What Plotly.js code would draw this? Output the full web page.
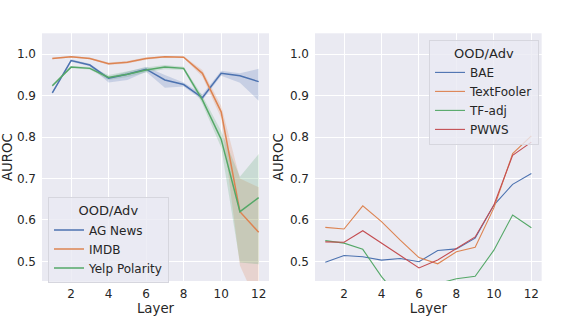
<!DOCTYPE html>
<html>
<head>
<meta charset="utf-8">
<script src="https://cdn.plot.ly/plotly-3.0.1.min.js"></script>
<style>html,body{margin:0;padding:0;background:#fff;}#chart{width:568px;height:318px;}</style>
</head>
<body>
<div id="chart"></div>
<script>
// ---- data ----
const layers = [1,2,3,4,5,6,7,8,9,10,11,12];

// left panel: OOD datasets (mean + confidence band)
const oodNames = ["AG News", "IMDB", "Yelp Polarity"];
const agNews     = [0.907,0.985,0.974,0.942,0.952,0.964,0.938,0.927,0.895,0.954,0.948,0.934];
const agNewsLo   = [0.904,0.982,0.971,0.932,0.938,0.958,0.919,0.922,0.889,0.948,0.931,0.888];
const agNewsHi   = [0.910,0.988,0.977,0.946,0.958,0.970,0.950,0.932,0.903,0.960,0.954,0.965];
const imdb       = [0.990,0.994,0.990,0.977,0.981,0.990,0.994,0.993,0.954,0.861,0.620,0.570];
const imdbLo     = [0.988,0.992,0.988,0.974,0.978,0.987,0.992,0.991,0.946,0.846,0.490,0.390];
const imdbHi     = [0.992,0.996,0.992,0.980,0.984,0.993,0.996,0.995,0.962,0.876,0.700,0.679];
const yelp       = [0.924,0.969,0.966,0.944,0.952,0.962,0.969,0.966,0.890,0.795,0.620,0.654];
const yelpLo     = [0.921,0.966,0.963,0.938,0.945,0.956,0.964,0.962,0.880,0.775,0.497,0.493];
const yelpHi     = [0.927,0.972,0.969,0.950,0.959,0.968,0.974,0.970,0.900,0.815,0.704,0.759];

// right panel: adversarial attacks
const advNames = ["BAE", "TextFooler", "TF-adj", "PWWS"];
const bae        = [0.498,0.514,0.511,0.503,0.507,0.499,0.526,0.530,0.556,0.636,0.686,0.712];
const textFooler = [0.582,0.578,0.634,0.596,0.551,0.509,0.494,0.523,0.534,0.629,0.760,0.803];
const tfAdj      = [0.550,0.544,0.529,0.463,0.410,0.400,0.446,0.458,0.464,0.527,0.612,0.581];
const pwws       = [0.547,0.546,0.574,0.543,0.514,0.484,0.503,0.531,0.559,0.636,0.756,0.788];

const yTicks = [0.5,0.6,0.7,0.8,0.9,1.0];
const xTicks = [2,4,6,8,10,12];

// ---- styling ----
const colors = ["#4c72b0","#dd8452","#55a868","#c44e52"];
const bands  = ["rgba(76,114,176,0.22)","rgba(221,132,82,0.22)","rgba(85,168,104,0.22)"];
const FONT = "DejaVu Sans, Liberation Sans, sans-serif";
const TXT = "#262626";

const traces = [];
const oodMean = [agNews, imdb, yelp];
const oodLo = [agNewsLo, imdbLo, yelpLo];
const oodHi = [agNewsHi, imdbHi, yelpHi];
for (let i = 0; i < 3; i++) {
  traces.push({x: layers, y: oodLo[i], xaxis:'x', yaxis:'y', mode:'lines', line:{width:0, color:colors[i]}, showlegend:false, hoverinfo:'skip'});
  traces.push({x: layers, y: oodHi[i], xaxis:'x', yaxis:'y', mode:'lines', line:{width:0, color:colors[i]}, fill:'tonexty', fillcolor:bands[i], showlegend:false, hoverinfo:'skip'});
}
for (let i = 0; i < 3; i++) {
  traces.push({x: layers, y: oodMean[i], name: oodNames[i], xaxis:'x', yaxis:'y', mode:'lines', line:{width:1.5, color:colors[i]}, legend:'legend'});
}
const advSeries = [bae, textFooler, tfAdj, pwws];
for (let i = 0; i < 4; i++) {
  traces.push({x: layers, y: advSeries[i], name: advNames[i], xaxis:'x2', yaxis:'y2', mode:'lines', line:{width:1.1, color:colors[i]}, legend:'legend2'});
}

const yr = [0.4525, 1.0507];
const xr = [0.45, 12.55];
function xaxis(domain, anchor) {
  return {domain: domain, anchor: anchor, range: xr, tickvals: xTicks, ticktext: xTicks.map(String),
    showgrid: true, gridcolor: '#ffffff', gridwidth: 1, zeroline: false, showline: false,
    ticks: '', ticklabelstandoff: 4, tickfont: {family: FONT, size: 12, color: TXT},
    title: {text: 'Layer', font: {family: FONT, size: 13.3, color: TXT}, standoff: 2}};
}
function yaxis(anchor) {
  return {domain: [0.11635, 0.8953], anchor: anchor, range: yr, tickvals: yTicks, ticktext: yTicks.map(v => v.toFixed(1)),
    showgrid: true, gridcolor: '#ffffff', gridwidth: 1, zeroline: false, showline: false,
    ticks: '', ticklabelstandoff: 5, tickfont: {family: FONT, size: 12, color: TXT},
    title: {text: 'AUROC', font: {family: FONT, size: 13.3, color: TXT}, standoff: 3}};
}
function legend(x, y) {
  return {x: x, y: y, xanchor: 'left', yanchor: 'top', bgcolor: 'rgba(234,234,242,0.8)', bordercolor: '#d6d6de', borderwidth: 1,
    font: {family: FONT, size: 12, color: TXT}, traceorder: 'normal',
    title: {text: 'OOD/Adv', side: 'top center', font: {family: FONT, size: 13, color: TXT}},
    itemwidth: 30, tracegroupgap: 0};
}

const layout = {
  width: 568, height: 318,
  margin: {l: 0, r: 0, t: 0, b: 0},
  paper_bgcolor: '#ffffff', plot_bgcolor: '#eaeaf2',
  font: {family: FONT, size: 12, color: TXT},
  showlegend: true,
  xaxis: xaxis([0.07394, 0.47359], 'y'),
  yaxis: yaxis('x'),
  xaxis2: xaxis([0.55458, 0.95363], 'y2'),
  yaxis2: yaxis('x2'),
  legend: legend(0.0845, 0.3790),
  legend2: legend(0.7553, 0.8742)
};

Plotly.newPlot('chart', traces, layout, {displayModeBar: false, staticPlot: true});
</script>
</body>
</html>
